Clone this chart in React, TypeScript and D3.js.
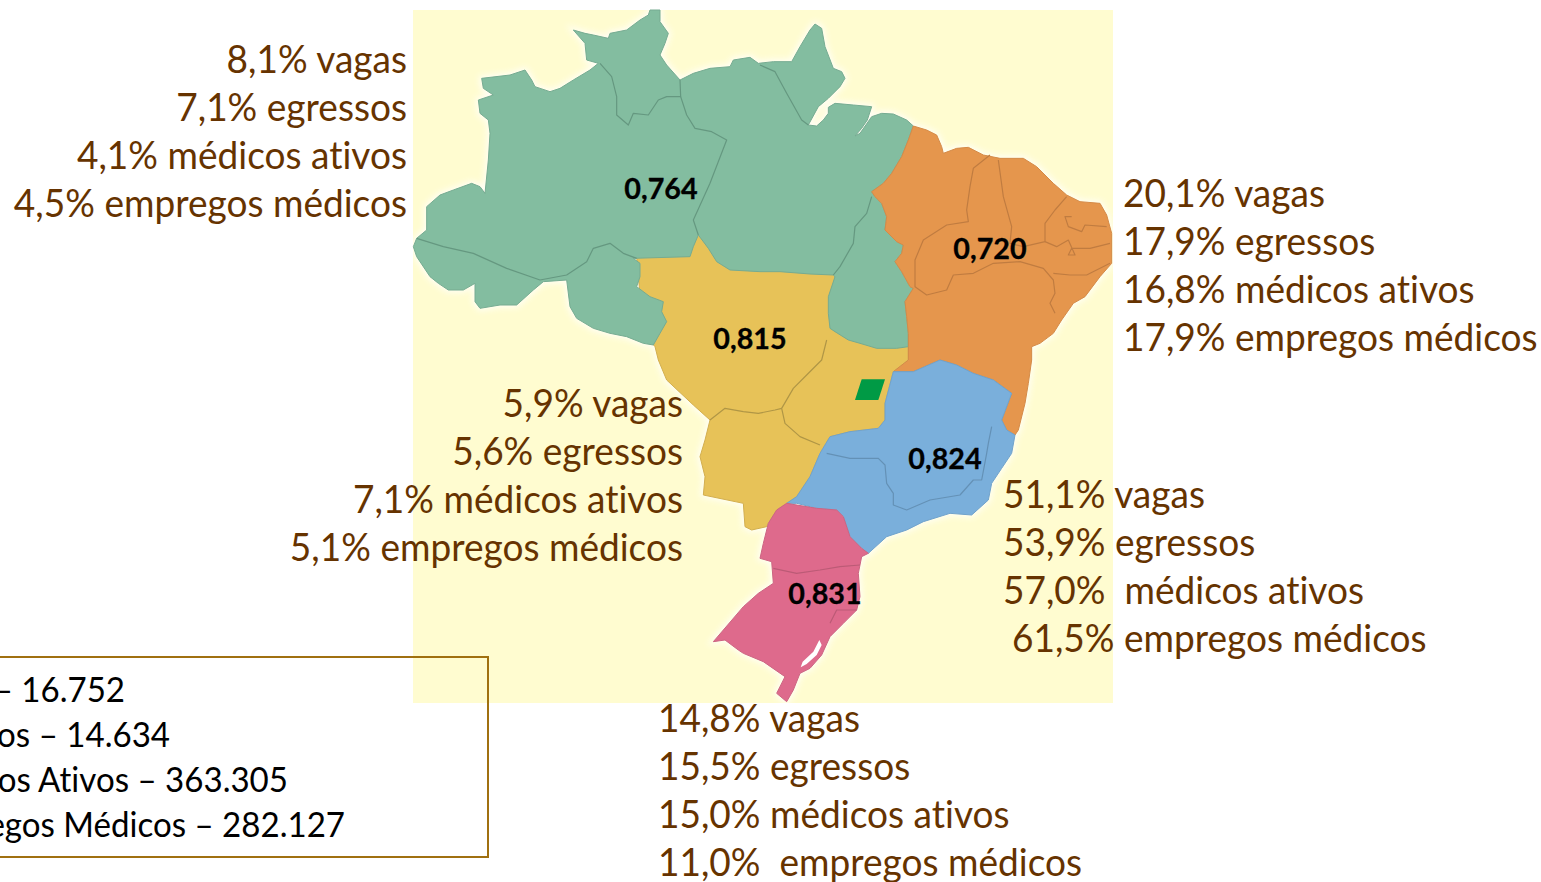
import React from 'react';
import * as d3 from 'd3';

const width = 1541;
const height = 882;

// percentages per region
const regionNames = ['Norte', 'Nordeste', 'Centro-Oeste', 'Sudeste', 'Sul'];
const idhm = [0.764, 0.72, 0.815, 0.824, 0.831];
const vagas = [8.1, 20.1, 5.9, 51.1, 14.8];
const egressos = [7.1, 17.9, 5.6, 53.9, 15.5];
const ativos = [4.1, 16.8, 7.1, 57.0, 15.0];
const empregos = [4.5, 17.9, 5.1, 61.5, 11.0];
const gapAtivos = [' ', ' ', ' ', '  ', ' '];
const gapEmpregos = [' ', ' ', ' ', ' ', '  '];

const totalNames = ['Vagas', 'Egressos', 'Médicos Ativos', 'Empregos Médicos'];
const totals = [16752, 14634, 363305, 282127];

// outlines, in three sheets of map units
type Pt = [number, number];
const coastNW: Pt[] = [[490,90],[525,100],[550,105],[595,115],[600,100],[650,90],[690,60],[715,45],[720,30],[750,30],[750,65],[775,100],[765,130],[750,165],[770,195],[810,240],[850,220],[900,205],[960,200],[970,180],[1020,172],[1045,190]];
const coastNE: Pt[] = [[40,185],[95,185],[120,140],[150,90],[165,72],[185,85],[195,140],[220,205],[245,215],[255,235],[240,260],[205,295],[175,320],[145,375],[170,378],[190,360],[205,340],[205,322],[225,310],[280,315],[335,320],[322,360],[305,385],[285,408],[300,400],[335,350],[365,340],[400,342],[440,360],[460,378]];
const paraMaranhao: Pt[] = [[445,420],[425,470],[395,520],[370,550],[335,575]];
const tocantinsEast: Pt[] = [[345,590],[365,610],[380,650],[375,690],[410,725],[430,735],[425,760],[405,785],[425,815],[450,860],[460,865],[435,905],[440,950],[445,1000],[445,1040]];
const tocantinsSouth: Pt[] = [[410,1045],[350,1045],[300,1030],[265,1020],[225,995],[210,985],[205,940],[205,890],[225,830],[220,825],[150,822],[60,815],[0,815]];
const greenSouthNW: Pt[] = [[960,810],[920,785],[895,745],[865,705],[850,740],[840,770],[670,775],[690,790],[690,830],[680,860],[720,890],[760,905],[755,935],[770,965],[750,1000],[730,1035],[700,1030],[650,1010],[600,1000],[550,985],[500,955],[480,920],[470,840],[400,845],[370,870],[320,915],[270,915],[210,925],[195,905],[195,850],[160,870],[115,870],[85,850],[60,830],[20,770],[10,740],[20,715],[50,690],[50,620],[90,585],[130,570],[185,550],[210,560],[225,580],[235,480],[240,400],[235,360],[210,340],[205,300],[250,285],[220,265],[215,235],[300,225],[345,210],[365,240],[375,260],[420,275],[450,265],[490,240],[540,210],[565,190],[530,180],[525,130]];

const coastOrangeNE: Pt[] = [[500,390],[530,405],[545,440],[550,460],[590,445],[625,442],[670,465],[720,475],[790,475],[830,500],[880,550],[920,585],[960,605],[1020,610],[1040,645],[1055,700],[1055,790],[1020,830],[975,890],[940,910],[905,960],[880,1000],[840,1030],[815,1040],[815,1080]];
const bahiaCoast: Pt[] = [[1195,130],[1185,190],[1165,270],[1155,285]];
const bahiaSouth: Pt[] = [[1130,270],[1115,240],[1145,160],[1090,120],[1030,100],[980,75],[930,60],[850,95],[790,95],[835,60]];

const blueOuter: Pt[] = [[790,95],[850,95],[930,60],[980,75],[1030,100],[1090,120],[1145,160],[1115,240],[1130,270],[1155,285],[1145,340],[1115,385],[1085,430],[1075,480],[1025,525],[960,520],[880,545],[830,570],[770,590],[715,640],[695,625],[660,590],[640,530],[620,510],[560,505],[500,490],[470,490],[500,470],[540,410],[570,340],[600,290],[660,275],[745,265],[765,240],[765,190]];
const pinkOuter: Pt[] = [[470,490],[560,505],[620,510],[640,530],[660,590],[695,625],[715,640],[695,650],[685,700],[690,770],[680,810],[640,850],[600,890],[575,945],[540,985],[510,1000],[490,1050],[470,1085],[440,1060],[465,1010],[400,965],[340,940],[325,930],[285,900],[250,905],[280,870],[340,800],[385,760],[430,730],[425,665],[390,655],[400,610],[415,550],[440,510]];
const lagoon: Pt[] = [[568,900],[575,915],[560,945],[530,972],[512,982],[518,965],[550,935]];
const yellowS: Pt[] = [[85,60],[110,120],[190,195],[240,240],[225,300],[210,350],[225,410],[220,465],[340,490],[345,560],[365,570],[410,560],[415,550],[440,510],[470,490],[500,470],[540,410],[570,340],[600,290],[660,275],[745,265],[765,240],[765,190],[790,95],[835,60],[835,0]];
const yellowUnderNE: Pt[] = [[300,900],[150,760]];
const yellowUnderNW: Pt[] = [[865,700],[680,770],[700,1000],[735,1040]];
const federalDistrict: Pt[] = [[695,118],[765,118],[745,180],[675,180]];

const linesNW: Pt[][] = [
  [[20,715],[100,740],[190,760],[290,805],[390,840],[470,825],[530,785],[550,745],[600,730],[640,760],[680,775]],
  [[570,190],[605,230],[620,290],[620,345],[655,375],[670,340],[715,345],[745,300],[770,290],[812,290],[810,240]],
  [[812,290],[830,345],[855,385],[905,395],[950,420],[900,550],[850,660],[865,705]],
];
const linesNE: Pt[][] = [
  [[0,195],[45,215],[80,280],[125,360],[145,375]],
  [[335,590],[320,640],[285,680],[280,730],[240,800],[220,825]],
  [[690,465],[640,505],[630,560],[620,630],[625,665],[560,675],[490,720],[465,780],[465,860],[500,885],[560,870],[580,825],[640,820],[700,790],[780,785],[850,805],[880,840],[885,880],[870,910],[885,940]],
  [[715,480],[730,590],[755,680],[750,730],[790,740],[855,725],[855,670],[885,630],[920,590]],
  [[880,820],[930,825],[980,825],[1050,790]],
  [[1050,730],[990,745],[935,745],[925,765],[945,765],[925,720],[890,740],[855,725]],
  [[1040,680],[975,675],[965,695],[925,680],[915,650],[935,650]],
];
const linesS: Pt[][] = [
  [[590,0],[575,60],[530,105],[490,145],[455,205],[465,250],[510,290],[570,315]],
  [[240,240],[285,205],[340,215],[385,220],[435,210],[455,205]],
  [[590,340],[660,355],[745,355],[765,375],[770,430],[790,460],[790,495],[830,510],[900,480],[990,465],[1030,420],[1055,420],[1070,340],[1075,310],[1085,260]],
  [[430,685],[500,700],[570,690],[630,680],[690,675]],
  [[600,850],[620,810],[680,810]],
];

const sheet = (x0: number, y0: number, w: number, h: number, ux: number, uy: number) => {
  const sx = d3.scaleLinear().domain([0, ux]).range([x0, x0 + w]);
  const sy = d3.scaleLinear().domain([0, uy]).range([y0, y0 + h]);
  return (pts: Pt[]): Pt[] => pts.map(([a, b]) => [sx(a), sy(b)]);
};
const nw = sheet(410, 0, 360, 360, 1080, 1080);
const ne = sheet(760, 0, 360, 360, 1080, 1080);
const so = sheet(630, 340, 400, 370, 1200, 1110);

const line = d3.line();
const closed = (pts: Pt[]) => line(pts) + 'Z';

const greenShape = [...nw(coastNW), ...ne(coastNE), ...ne(paraMaranhao), ...ne(tocantinsEast), ...ne(tocantinsSouth), ...nw(greenSouthNW)];
const orangeShape = [...ne(coastNE).slice(-1), ...ne(coastOrangeNE), ...so(bahiaCoast), ...so(bahiaSouth), ...[...ne(tocantinsEast)].reverse(), ...[...ne(paraMaranhao)].reverse()];
const yellowShape = [...so(yellowS), ...ne(yellowUnderNE), ...nw(yellowUnderNW)];

const ptLocale = d3.formatLocale({ decimal: ',', thousands: '.', grouping: [3], currency: ['', ''] });
const pct = ptLocale.format('.1f');
const idx = ptLocale.format('.3f');
const count = ptLocale.format(',d');

const brown = '#663300';
const font = 'Lato, sans-serif';
const statSqueeze = 0.975;
const totalSqueeze = 0.945;
const idhmSqueeze = 0.99;

const statAnchor = ['end', 'start', 'end', 'start', 'start'];
const statX = [407, 1123, 683, 1003, 658];
const statY = [73, 207, 417, 508, 732];
const statStep = 48;
const empregoX = [407, 1123, 683, 1012, 658];
const idhmX = [661, 990, 750, 945, 825];
const idhmY = [199, 259, 349, 469, 604];
const totalEnd = [125, 170, 288, 345];
const totalY = [702, 747, 792, 837];

const App = () => {
  const regionShapes = [
    { d: closed(yellowShape), fill: '#E7C259', stroke: '#D2AE4E' },
    { d: closed(greenShape), fill: '#83BDA0', stroke: '#76AB91' },
    { d: closed(orangeShape), fill: '#E5964E', stroke: '#D48A47' },
    { d: closed(so(blueOuter)), fill: '#7AAFDB', stroke: '#70A2CB' },
    { d: closed(so(pinkOuter)), fill: '#DE6B8C', stroke: '#CC6482' },
  ];
  const inner = [
    ...linesNW.map(l => ({ d: line(nw(l)), c: '#659880' })),
    ...linesNE.slice(0, 2).map(l => ({ d: line(ne(l)), c: '#659880' })),
    ...linesNE.slice(2).map(l => ({ d: line(ne(l)), c: '#C07C40' })),
    ...linesS.slice(0, 2).map(l => ({ d: line(so(l)), c: '#B09645' })),
    { d: line(so(linesS[2])), c: '#6491B6' },
    ...linesS.slice(3).map(l => ({ d: line(so(l)), c: '#BC5A76' })),
  ];

  return (
    <svg
      width={width}
      height={height}
      viewBox={`0 0 ${width} ${height}`}
      style={{ position: 'absolute', left: 0, top: 0, background: '#fff', fontFamily: font, fontVariantLigatures: 'none' }}
    >
      <defs>
        <filter id='halo' x='-5%' y='-5%' width='110%' height='110%'>
          <feGaussianBlur stdDeviation='3' />
        </filter>
        <filter id='soft' x='-2%' y='-2%' width='104%' height='104%'>
          <feGaussianBlur stdDeviation='0.6' />
        </filter>
      </defs>
      <rect x={413} y={10} width={700} height={693} fill='#FFFCD0' />
      <g filter='url(#halo)' fill='#fff' stroke='#fff' strokeWidth={5} opacity={0.8}>
        {regionShapes.map((r, i) => <path key={i} d={r.d} />)}
      </g>
      <g filter='url(#soft)'>
        {regionShapes.map((r, i) => (
          <path key={regionNames[i] || i} d={r.d} fill={r.fill} stroke={r.stroke} strokeWidth={1} strokeLinejoin='round' />
        ))}
        {inner.map((l, i) => (
          <path key={i} d={l.d || ''} fill='none' stroke={l.c} strokeWidth={1.2} strokeLinejoin='round' />
        ))}
        <path d={closed(so(lagoon))} fill='#fff' />
        <path d={closed(so(federalDistrict))} fill='#009A44' />
      </g>

      {idhm.map((v, i) => (
        <text
          key={regionNames[i]}
          transform={`translate(${idhmX[i]},${idhmY[i]}) scale(${idhmSqueeze},1)`}
          textAnchor='middle'
          fontSize={29}
          fontWeight={700}
          fill='#000'
          stroke='#000'
          strokeWidth={0.3}
        >
          {idx(v)}
        </text>
      ))}

      {regionNames.map((name, i) => {
        const rows = [
          `${pct(vagas[i])}% vagas`,
          `${pct(egressos[i])}% egressos`,
          `${pct(ativos[i])}%${gapAtivos[i]}médicos ativos`,
          `${pct(empregos[i])}%${gapEmpregos[i]}empregos médicos`,
        ];
        return (
          <g key={name} fontSize={38} fill={brown} textAnchor={statAnchor[i]} style={{ whiteSpace: 'pre' }}>
            {rows.map((t, j) => (
              <text
                key={j}
                xmlSpace='preserve'
                transform={`translate(${j === 3 ? empregoX[i] : statX[i]},${statY[i] + j * statStep}) scale(${statSqueeze},1)`}
              >
                {t}
              </text>
            ))}
          </g>
        );
      })}

      <rect x={-20} y={657} width={508} height={200} fill='none' stroke='#A07010' strokeWidth={2} />
      {totalNames.map((name, i) => (
        <text
          key={name}
          transform={`translate(${totalEnd[i]},${totalY[i]}) scale(${totalSqueeze},1)`}
          textAnchor='end'
          fontSize={35}
          fill='#000'
        >
          {`${name} – ${count(totals[i])}`}
        </text>
      ))}
    </svg>
  );
};

export default App;
